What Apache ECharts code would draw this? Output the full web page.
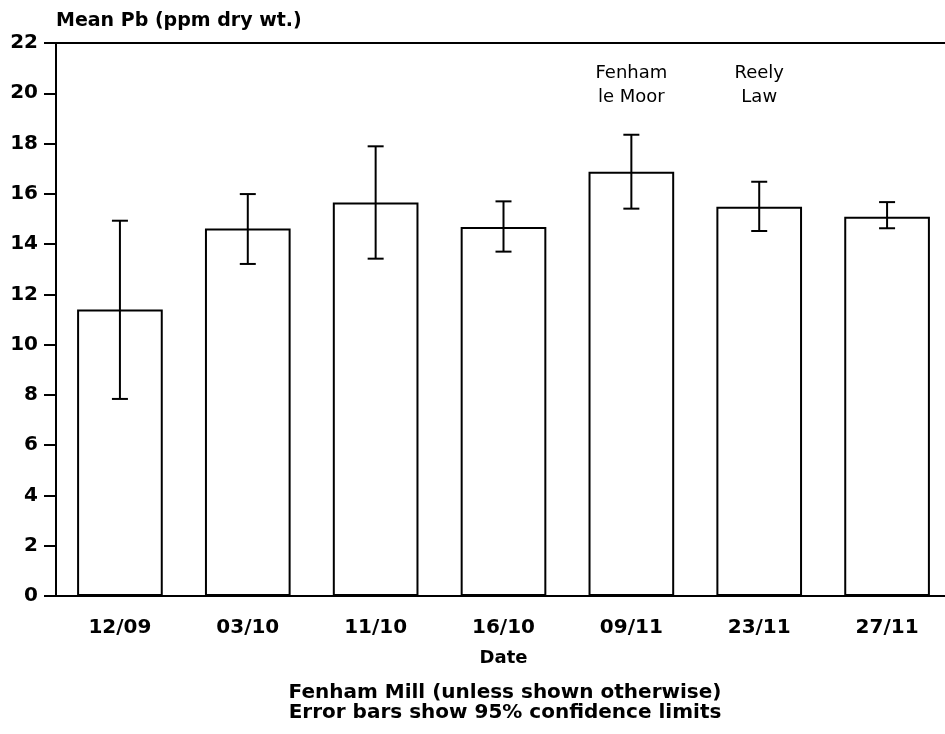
<!DOCTYPE html>
<html>
<head>
<meta charset="utf-8">
<script src="https://cdn.jsdelivr.net/npm/echarts@6/dist/echarts.min.js"></script>
<style>
  html, body { margin: 0; padding: 0; background: #fff; }
  #chart { width: 945px; height: 734px; }
</style>
</head>
<body>
<div id="chart"></div>
<script>
// values
const dates = ['12/09', '03/10', '11/10', '16/10', '09/11', '23/11', '27/11'];
const meanPb = [11.4, 14.62, 15.65, 14.68, 16.88, 15.49, 15.09];
const lowerCI = [7.84, 13.21, 13.42, 13.70, 15.41, 14.52, 14.63];
const upperCI = [14.93, 15.99, 17.89, 15.70, 18.35, 16.48, 15.67];
const siteNotes = [['09/11', 20.33, 'Fenham\nle Moor'], ['23/11', 20.33, 'Reely\nLaw']];

const font = 'DejaVu Sans';
let chart = echarts.init(document.getElementById('chart'));

const errData = dates.map((d, i) => [i, lowerCI[i], upperCI[i]]);

const option = {
    animation: false,
    backgroundColor: '#fff',
    grid: { left: 56, width: 895, top: 43, bottom: 138, outerBoundsMode: 'none', containLabel: false },
    xAxis: [{
        type: 'category',
        data: dates,
        name: 'Date',
        nameLocation: 'middle',
        nameGap: 53,
        nameTextStyle: { fontFamily: font, fontWeight: 'bold', fontSize: 18, color: '#000' },
        axisLine: { lineStyle: { color: '#000', width: 2 } },
        axisTick: { alignWithLabel: true, length: 8, lineStyle: { color: '#000', width: 2 } },
        axisLabel: { fontFamily: font, fontWeight: 'bold', fontSize: 20, color: '#000', margin: 22 }
    }, {
        type: 'category',
        data: dates,
        position: 'top',
        axisLine: { lineStyle: { color: '#000', width: 2 } },
        axisTick: { show: false },
        axisLabel: { show: false }
    }],
    yAxis: {
        type: 'value',
        min: 0,
        max: 22,
        interval: 2,
        name: 'Mean Pb (ppm dry wt.)',
        nameLocation: 'end',
        nameGap: 12,
        nameTextStyle: { fontFamily: font, fontWeight: 'bold', fontSize: 19, color: '#000', align: 'left' },
        axisLine: { show: true, lineStyle: { color: '#000', width: 2 } },
        axisTick: { show: true, length: 12, lineStyle: { color: '#000', width: 2 } },
        axisLabel: { fontFamily: font, fontWeight: 'bold', fontSize: 20, color: '#000', margin: 18 },
        splitLine: { show: false }
    },
    graphic: [{
        type: 'text',
        x: 505,
        y: 683,
        style: {
            text: 'Fenham Mill (unless shown otherwise)\nError bars show 95% confidence limits',
            align: 'center',
            font: 'bold 20px "DejaVu Sans"',
            lineHeight: 20,
            fill: '#000'
        }
    }],
    series: [{
        type: 'bar',
        data: meanPb,
        barWidth: '67%',
        itemStyle: { color: '#fff', borderColor: '#000', borderWidth: 2 }
    }, {
        type: 'custom',
        data: errData,
        renderItem: function (params, api) {
            const x = api.value(0);
            const lo = api.coord([x, api.value(1)]);
            const hi = api.coord([x, api.value(2)]);
            const w = 8;
            const st = { stroke: '#000', lineWidth: 2 };
            return {
                type: 'group',
                children: [
                    { type: 'line', shape: { x1: lo[0], y1: lo[1], x2: hi[0], y2: hi[1] }, style: st },
                    { type: 'line', shape: { x1: lo[0] - w, y1: lo[1], x2: lo[0] + w, y2: lo[1] }, style: st },
                    { type: 'line', shape: { x1: hi[0] - w, y1: hi[1], x2: hi[0] + w, y2: hi[1] }, style: st }
                ]
            };
        },
        z: 5
    }, {
        type: 'custom',
        data: siteNotes,
        renderItem: function (params, api) {
            const p = api.coord([api.value(0), api.value(1)]);
            return {
                type: 'text',
                x: p[0],
                y: p[1],
                style: {
                    text: siteNotes[params.dataIndex][2],
                    align: 'center',
                    verticalAlign: 'middle',
                    font: '18px "DejaVu Sans"',
                    lineHeight: 24,
                    fill: '#000'
                }
            };
        }
    }]
};

chart.setOption(option);
</script>
</body>
</html>
